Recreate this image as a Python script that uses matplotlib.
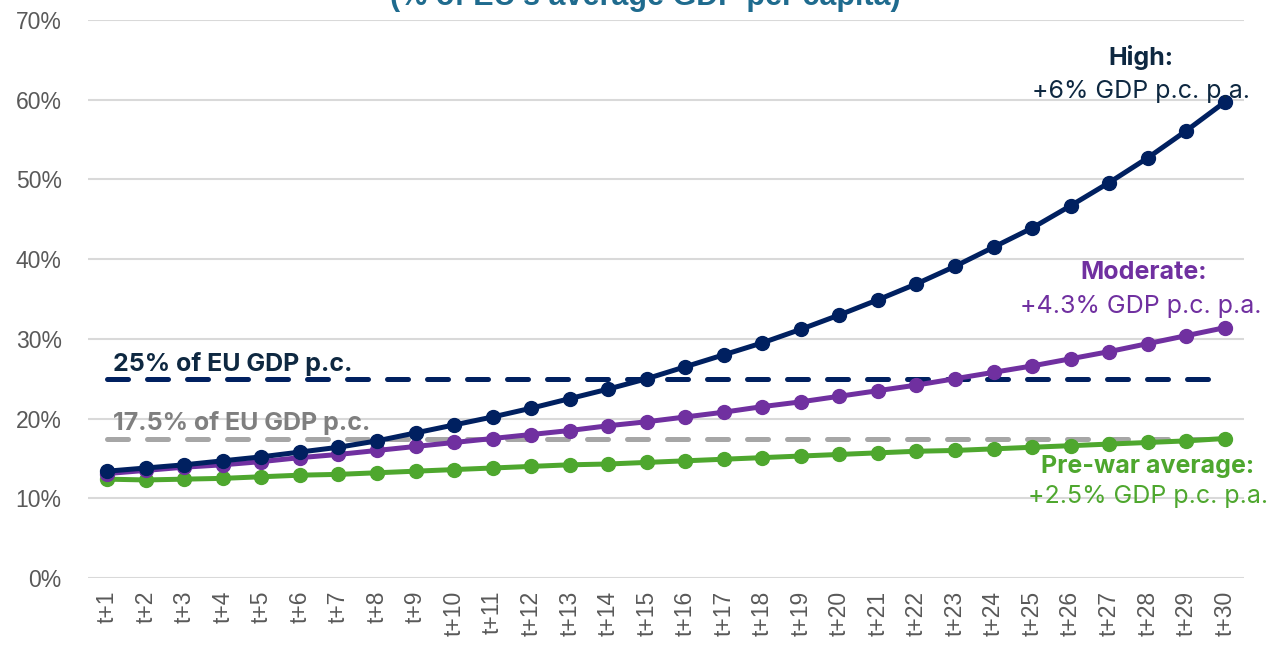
import matplotlib
matplotlib.use("Agg")
import matplotlib.pyplot as plt

# Years ahead of the base year
periods = [f"t+{i}" for i in range(1, 31)]

# GDP per capita as % of the EU average, by growth scenario
high = [13.4, 13.8, 14.2, 14.7, 15.2, 15.8, 16.4, 17.2, 18.2, 19.2,
        20.2, 21.3, 22.5, 23.7, 25.0, 26.5, 28.0, 29.5, 31.2, 33.0,
        34.9, 36.9, 39.1, 41.5, 43.9, 46.7, 49.6, 52.7, 56.1, 59.7]
moderate = [13.1, 13.5, 13.9, 14.2, 14.6, 15.1, 15.5, 16.0, 16.5, 17.0,
            17.5, 18.0, 18.5, 19.1, 19.6, 20.2, 20.8, 21.5, 22.1, 22.8,
            23.5, 24.2, 25.0, 25.8, 26.6, 27.5, 28.4, 29.4, 30.4, 31.4]
prewar = [12.4, 12.3, 12.4, 12.5, 12.7, 12.9, 13.0, 13.2, 13.4, 13.6,
          13.8, 14.0, 14.2, 14.3, 14.5, 14.7, 14.9, 15.1, 15.3, 15.5,
          15.7, 15.9, 16.0, 16.2, 16.4, 16.6, 16.8, 17.0, 17.2, 17.5]

# Reference thresholds
threshold_high = 25.0
threshold_low = 17.5

y_ticks = [0, 10, 20, 30, 40, 50, 60, 70]

NAVY = "#002060"
PURPLE = "#7030A0"
GREEN = "#4EA72E"
GREY = "#A6A6A6"
LABEL_NAVY = "#0E2841"
LABEL_GREY = "#7F7F7F"
TITLE = "#1F6B8E"
TICK = "#595959"
GRID = "#D9D9D9"

fig = plt.figure(figsize=(12.68, 6.49), dpi=100)
ax = fig.add_axes([88 / 1268, 1 - 578 / 649, (1244 - 88) / 1268, (578 - 20) / 649])

x = list(range(len(periods)))

# Threshold lines
dash = dict(lw=3.6, dashes=(4.2, 3.8), dash_capstyle="round", zorder=2)
ax.plot(x, [threshold_high] * len(x), color=NAVY, **dash)
ax.plot(x, [threshold_low] * len(x), color=GREY, **dash)

# Scenario series
line = dict(lw=3.6, marker="o", markersize=10, solid_capstyle="round", zorder=3)
ax.plot(x, prewar, color=GREEN, **line)
ax.plot(x, moderate, color=PURPLE, **line)
ax.plot(x, high, color=NAVY, **line)

ax.set_xlim(-0.5, len(x) - 0.5)
ax.set_ylim(0, 70)
ax.set_yticks(y_ticks)
ax.set_yticklabels([f"{v}%" for v in y_ticks], fontfamily="Liberation Sans",
                   fontsize=16.5, color=TICK)
ax.set_xticks(x)
ax.set_xticklabels(periods, rotation=90, fontfamily="Liberation Sans",
                   fontsize=16.5, color=TICK)
ax.tick_params(axis="both", length=0)
ax.tick_params(axis="y", pad=19)
ax.tick_params(axis="x", pad=9)

for s in ax.spines.values():
    s.set_visible(False)
ax.grid(axis="y", color=GRID, lw=1.5, zorder=0)
ax.set_axisbelow(True)

lab = dict(fontfamily="Inter", fontsize=18, va="baseline")

ax.text(0.15, 25.95, "25% of EU GDP p.c.", color=LABEL_NAVY,
        fontweight="bold", ha="left", **lab)
ax.text(0.15, 18.55, "17.5% of EU GDP p.c.", color=LABEL_GREY,
        fontweight="bold", ha="left", zorder=1, **lab)

ax.text(26.83, 64.35, "High:", color=LABEL_NAVY, fontweight="bold",
        ha="center", **lab)
ax.text(26.83, 60.2, "+6% GDP p.c. p.a.", color=LABEL_NAVY,
        ha="center", **lab)

ax.text(26.9, 37.5, "Moderate:", color=PURPLE, fontweight="bold",
        ha="center", **lab)
ax.text(26.83, 33.25, "+4.3% GDP p.c. p.a.", color=PURPLE,
        ha="center", **lab)

ax.text(27.0, 13.15, "Pre-war average:", color=GREEN, fontweight="bold",
        ha="center", **lab)
ax.text(27.0, 9.4, "+2.5% GDP p.c. p.a.", color=GREEN,
        ha="center", **lab)

fig.text(645 / 1268, 1 - 5 / 649, "(% of EU's average GDP per capita)",
         color=TITLE, fontfamily="Liberation Sans", fontweight="bold",
         fontsize=22, ha="center", va="baseline")

fig.savefig("out.png", dpi=100)
